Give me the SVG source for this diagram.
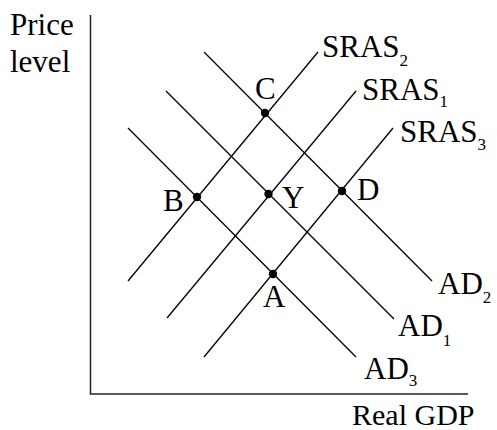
<svg xmlns="http://www.w3.org/2000/svg" width="497" height="430" viewBox="0 0 497 430">
<style>
text{font-family:"Liberation Serif","Times New Roman",serif;font-size:31px;fill:#000}
.sub{font-size:17px}
.ln{stroke:#000;stroke-width:1.3;fill:none}
.ax{stroke:#222;stroke-width:1.5;fill:none}
.pt{fill:#000}
</style>
<rect width="497" height="430" fill="#fff"/>
<g id="axes">
<line class="ax" x1="90.5" y1="15" x2="90.5" y2="394"/>
<line class="ax" x1="89.8" y1="394" x2="468" y2="394"/>
<text x="10" y="35">Price</text>
<text x="10" y="72">level</text>
<text x="352" y="425" style="font-size:30px">Real GDP</text>
</g>
<g id="connectors">
<line id="SRAS2-line" class="ln" x1="128" y1="281" x2="318" y2="52"/>
<line id="SRAS1-line" class="ln" x1="167" y1="318" x2="356" y2="91"/>
<line id="SRAS3-line" class="ln" x1="204" y1="357" x2="393" y2="128"/>
<line id="AD2-line" class="ln" x1="204" y1="52" x2="432" y2="281"/>
<line id="AD1-line" class="ln" x1="166" y1="91" x2="394" y2="319"/>
<line id="AD3-line" class="ln" x1="128" y1="128" x2="356" y2="357"/>
</g>
<g id="SRAS2"><text x="322" y="57">SRAS<tspan class="sub" dy="9">2</tspan></text></g>
<g id="SRAS1"><text x="362" y="100">SRAS<tspan class="sub" dy="7">1</tspan></text></g>
<g id="SRAS3"><text x="400" y="142">SRAS<tspan class="sub" dy="8">3</tspan></text></g>
<g id="AD2"><text x="438" y="294">AD<tspan class="sub" dy="9">2</tspan></text></g>
<g id="AD1"><text x="398" y="336">AD<tspan class="sub" dy="10">1</tspan></text></g>
<g id="AD3"><text x="364" y="379">AD<tspan class="sub" dy="7">3</tspan></text></g>
<g id="C"><circle class="pt" cx="265" cy="113" r="4.2"/><text x="255" y="99">C</text></g>
<g id="B"><circle class="pt" cx="197" cy="197" r="4.2"/><text x="163" y="211">B</text></g>
<g id="Y"><circle class="pt" cx="268.5" cy="194" r="4.2"/><text x="282" y="208">Y</text></g>
<g id="D"><circle class="pt" cx="342" cy="191" r="4.2"/><text x="357" y="200">D</text></g>
<g id="A"><circle class="pt" cx="273" cy="274" r="4.2"/><text x="263" y="307">A</text></g>
</svg>
